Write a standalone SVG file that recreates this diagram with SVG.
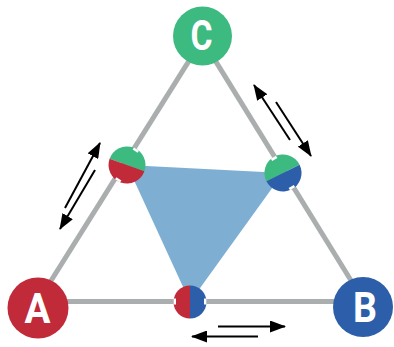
<svg xmlns="http://www.w3.org/2000/svg" width="394" height="347" viewBox="0 0 394 347">
<style>
.edge{stroke:#aaaeae;stroke-width:5;fill:none}
.arr{stroke:#000;stroke-width:2;fill:none;marker-end:url(#ah)}
.lbl{font-family:Roboto,"Liberation Sans",sans-serif;font-weight:bold;font-size:42px;fill:#fff;text-anchor:middle}
.red{fill:#c12a38}.blue{fill:#2d5ea9}.green{fill:#3dba80}
.notch{stroke:#fff;stroke-width:6;fill:none}
</style>
<defs>
<marker id="ah" markerUnits="userSpaceOnUse" markerWidth="16" markerHeight="12" refX="15" refY="6" orient="auto">
<path d="M0,0 L16,6 L0,12 Z" fill="#000"/>
</marker>
</defs>
<g id="connectors">
<polygon points="127,165 283,173 190,302" fill="#7eafd3"/>
<line class="edge" x1="202.3" y1="39.6" x2="38" y2="301.5"/>
<line class="edge" x1="202.3" y1="39.6" x2="364" y2="301.5"/>
<line class="edge" x1="38" y1="301.5" x2="364" y2="301.5"/>
<line class="arr" x1="65" y1="208" x2="100" y2="143"/>
<line class="arr" x1="95" y1="170" x2="60" y2="229"/>
<line class="arr" x1="290" y1="140" x2="254" y2="85"/>
<line class="arr" x1="276" y1="102" x2="311" y2="156"/>
<line class="arr" x1="218" y1="326.5" x2="285" y2="326.5"/>
<line class="arr" x1="258" y1="336.5" x2="192" y2="336.5"/>
</g>
<g id="node-AC">
<path class="green" d="M109.6,158.7 A18.5,18.5 0 0 1 144.4,171.3 Z"/>
<path class="red" d="M144.4,171.3 A18.5,18.5 0 0 1 109.6,158.7 Z"/>
<line class="notch" x1="135.1" y1="151.2" x2="136.5" y2="149.1"/>
<line class="notch" x1="118.9" y1="178.8" x2="117.5" y2="180.9"/>
</g>
<g id="node-BC">
<path class="green" d="M266.4,181.3 A18.5,18.5 0 0 1 299.6,164.7 Z"/>
<path class="blue" d="M299.6,164.7 A18.5,18.5 0 0 1 266.4,181.3 Z"/>
<line class="notch" x1="274.8" y1="159.5" x2="273.4" y2="157.2"/>
<line class="notch" x1="291.2" y1="186.5" x2="292.6" y2="188.8"/>
</g>
<g id="node-AB">
<path class="red" d="M190,285.5 A16.5,16.5 0 0 0 190,318.5 Z"/>
<path class="blue" d="M190,285.5 A16.5,16.5 0 0 1 190,318.5 Z"/>
<line class="notch" x1="176" y1="301.5" x2="173.5" y2="301.5"/>
<line class="notch" x1="204" y1="301.5" x2="206.5" y2="301.5"/>
</g>
<g id="node-A">
<circle class="red" cx="38" cy="308" r="30.5"/>
<text class="lbl" x="37.5" y="323" textLength="26" lengthAdjust="spacingAndGlyphs">A</text>
</g>
<g id="node-B">
<circle class="blue" cx="363" cy="307" r="30"/>
<text class="lbl" x="365" y="321.5" textLength="24" lengthAdjust="spacingAndGlyphs">B</text>
</g>
<g id="node-C">
<circle class="green" cx="202.5" cy="36" r="29.5"/>
<text class="lbl" x="201.5" y="49.5" textLength="22" lengthAdjust="spacingAndGlyphs">C</text>
</g>
</svg>
